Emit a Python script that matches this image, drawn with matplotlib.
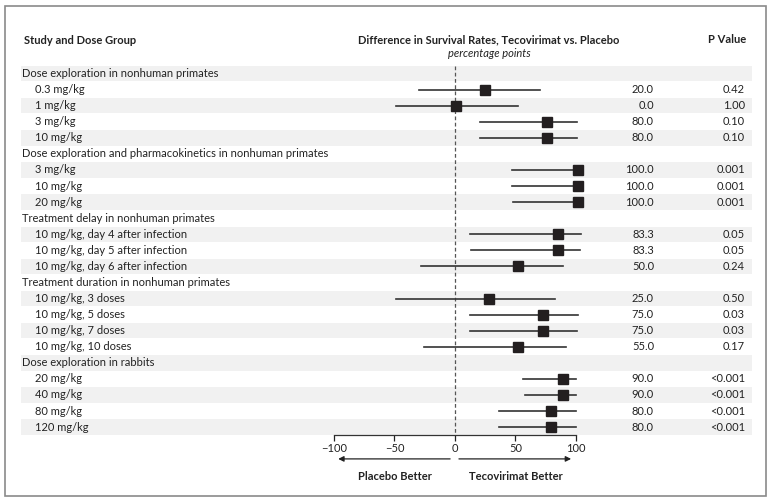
import numpy as np
import matplotlib
matplotlib.use('Agg')
import matplotlib.pyplot as plt
from matplotlib.patches import Rectangle
from matplotlib.transforms import blended_transform_factory

plt.rcParams['font.family'] = ['Lato', 'DejaVu Sans']

# rows, top to bottom (None = group header row)
labels = [
    'Dose exploration in nonhuman primates',
    '0.3 mg/kg', '1 mg/kg', '3 mg/kg', '10 mg/kg',
    'Dose exploration and pharmacokinetics in nonhuman primates',
    '3 mg/kg', '10 mg/kg', '20 mg/kg',
    'Treatment delay in nonhuman primates',
    '10 mg/kg, day 4 after infection', '10 mg/kg, day 5 after infection',
    '10 mg/kg, day 6 after infection',
    'Treatment duration in nonhuman primates',
    '10 mg/kg, 3 doses', '10 mg/kg, 5 doses', '10 mg/kg, 7 doses', '10 mg/kg, 10 doses',
    'Dose exploration in rabbits',
    '20 mg/kg', '40 mg/kg', '80 mg/kg', '120 mg/kg',
]
diff = [None, 20.0, 0.0, 80.0, 80.0,
        None, 100.0, 100.0, 100.0,
        None, 83.3, 83.3, 50.0,
        None, 25.0, 75.0, 75.0, 55.0,
        None, 90.0, 90.0, 80.0, 80.0]
p_values = [None, '0.42', '1.00', '0.10', '0.10',
            None, '0.001', '0.001', '0.001',
            None, '0.05', '0.05', '0.24',
            None, '0.50', '0.03', '0.03', '0.17',
            None, '<0.001', '<0.001', '<0.001', '<0.001']
# square positions as drawn in the figure
marker_pos = [None, 25, 0.5, 76, 76,
              None, 101.5, 101.5, 101.5,
              None, 85, 85, 52,
              None, 28, 73, 73, 52,
              None, 89, 89, 79, 79]
ci_low = [None, -30, -49, 21, 21,
          None, 47.5, 47.5, 48,
          None, 12.5, 13, -28,
          None, -49, 12.5, 12.5, -25.5,
          None, 56.5, 57.5, 36.5, 36.5]
ci_high = [None, 70, 52, 101, 100.5,
           None, 101.5, 101.5, 101.5,
           None, 104, 103, 89.5,
           None, 83, 101.5, 101, 91.5,
           None, 100, 100, 100, 100]

W, H = 771, 501
fig = plt.figure(figsize=(W / 100, H / 100), dpi=100)
ax = fig.add_axes([0, 0, 1, 1])
ax.set_xlim(-376.0, 261.2)
ax.set_ylim(26.60, -4.58)
trans = blended_transform_factory(fig.transFigure, ax.transData)

n = len(labels)
fs = 8.0
txt = '#222222'

for i in range(n):
    if i % 2 == 0:
        ax.add_patch(Rectangle((21 / W, i - 0.48), 731 / W, 0.96, transform=trans,
                               facecolor='#f1f1f1', edgecolor='none', zorder=0))
    header = diff[i] is None
    ax.text((22 if header else 35) / W, i, labels[i], transform=trans,
            ha='left', va='center', fontsize=fs, color=txt)
    if header:
        continue
    ax.text(654 / W, i, '%.1f' % diff[i], transform=trans,
            ha='right', va='center', fontsize=fs, color=txt)
    ax.text(745 / W, i, p_values[i], transform=trans,
            ha='right', va='center', fontsize=fs, color=txt)
    ax.plot([ci_low[i], ci_high[i]], [i, i], color='#333333', lw=1.2, zorder=2)
    ax.plot(marker_pos[i], i, marker='s', markersize=7.3, color='#231f20', zorder=3)

# line of no difference
ax.plot([0, 0], [-0.5, 22.5], color='#555555', lw=0.9, dashes=(3, 2), zorder=1)

# headers
ax.text(24 / W, -2.09, 'Study and Dose Group', transform=trans, ha='left',
        va='center', fontsize=fs, fontweight='bold', color=txt)
ax.text(489 / W, -2.09, 'Difference in Survival Rates, Tecovirimat vs. Placebo',
        transform=trans, ha='center', va='center', fontsize=fs,
        fontweight='bold', color=txt)
ax.text(489 / W, -1.22, 'percentage points', transform=trans, ha='center',
        va='center', fontsize=fs, style='italic', color=txt)
ax.text(746.5 / W, -2.15, 'P Value', transform=trans, ha='right',
        va='center', fontsize=fs, fontweight='bold', color=txt)

# x axis
for s in ['top', 'left', 'right']:
    ax.spines[s].set_visible(False)
ax.spines['bottom'].set_position(('data', 22.5))
ax.spines['bottom'].set_bounds(-100, 100)
ax.spines['bottom'].set_color('#333333')
ax.spines['bottom'].set_linewidth(0.9)
ax.set_xticks([-100, -50, 0, 50, 100])
ax.set_xticklabels(['\u2212100', '\u221250', '0', '50', '100'])
ax.tick_params(axis='x', direction='out', length=4, width=0.9, pad=1.5,
               labelsize=fs, colors=txt)
ax.set_yticks([])

# direction arrows
ax.annotate('', xy=(-96.5, 23.98), xytext=(-4, 23.98),
            arrowprops=dict(arrowstyle='-|>', color=txt, lw=0.9,
                            mutation_scale=8, shrinkA=0, shrinkB=0))
ax.annotate('', xy=(96, 23.98), xytext=(3.3, 23.98),
            arrowprops=dict(arrowstyle='-|>', color=txt, lw=0.9,
                            mutation_scale=8, shrinkA=0, shrinkB=0))
ax.text(-50, 25.08, 'Placebo Better', ha='center', va='center', fontsize=fs,
        fontweight='bold', color=txt)
ax.text(50, 25.08, 'Tecovirimat Better', ha='center', va='center', fontsize=fs,
        fontweight='bold', color=txt)

# outer frame
fig.patches.append(Rectangle((5 / W, 5.5 / H), 761 / W, 490 / H,
                             transform=fig.transFigure, fill=False,
                             edgecolor='#8a8a8a', lw=1.2))

plt.savefig('out.png', dpi=100)
